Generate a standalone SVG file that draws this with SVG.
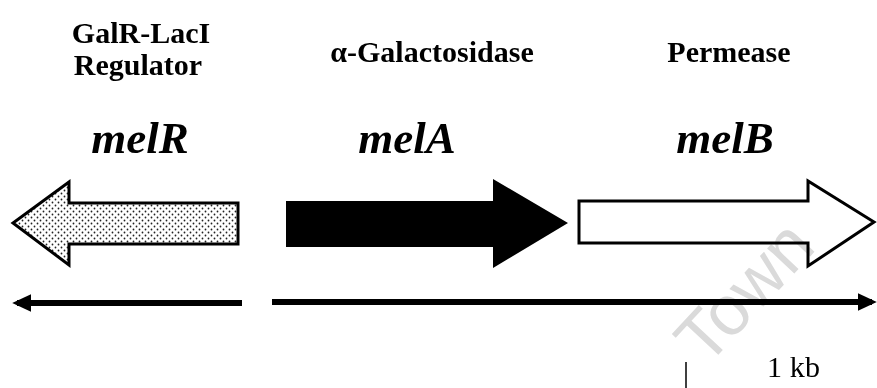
<svg xmlns="http://www.w3.org/2000/svg" width="877" height="388" viewBox="0 0 877 388">
  <defs>
    <pattern id="stipple" width="6" height="6" patternUnits="userSpaceOnUse">
      <rect width="6" height="6" fill="#fff"/>
      <circle cx="1.5" cy="1.5" r="0.9" fill="#222"/>
      <circle cx="4.5" cy="4.5" r="0.9" fill="#222"/>
    </pattern>
    <marker id="head" markerWidth="3.2" markerHeight="3" refX="2.4" refY="1.5" orient="auto" markerUnits="strokeWidth">
      <path d="M0,0 L3.2,1.5 L0,3 Z" fill="#000"/>
    </marker>
  </defs>
  <style>
    .lbl { font-family: "Liberation Serif", "Times New Roman", serif; font-weight: bold; font-size: 30px; fill: #000; }
    .gene { font-family: "Liberation Serif", "Times New Roman", serif; font-weight: bold; font-style: italic; font-size: 45px; fill: #000; }
    .gene-arrow { stroke: #000; stroke-width: 3; stroke-linejoin: miter; }
    .axis { stroke: #000; stroke-width: 6; fill: none; }
    .scale { font-family: "Liberation Serif", "Times New Roman", serif; font-size: 30px; fill: #000; }
    .wm { font-family: "Liberation Sans", Arial, sans-serif; font-size: 70px; fill: #dadada; mix-blend-mode: multiply; }
  </style>
  <rect width="877" height="388" fill="#fff"/>

  <g id="melR">
    <text class="lbl" x="141" y="43" text-anchor="middle">GalR-LacI</text>
    <text class="lbl" x="138" y="75" text-anchor="middle">Regulator</text>
    <text class="gene" x="140" y="153" text-anchor="middle">melR</text>
    <path class="gene-arrow" fill="url(#stipple)" d="M238,203 L238,244 L69,244 L69,265 L13,223 L69,182 L69,203 Z"/>
  </g>

  <g id="melA">
    <text class="lbl" x="432" y="62" text-anchor="middle">α-Galactosidase</text>
    <text class="gene" x="407" y="153" text-anchor="middle">melA</text>
    <path fill="#000" d="M286,201 L493,201 L493,179 L568,223 L493,268 L493,247 L286,247 Z"/>
  </g>

  <g id="melB">
    <text class="lbl" x="729" y="62" text-anchor="middle">Permease</text>
    <text class="gene" x="725" y="153" text-anchor="middle">melB</text>
    <path class="gene-arrow" fill="#fff" d="M579,201 L808,201 L808,181 L874,222 L808,266 L808,243 L579,243 Z"/>
  </g>

  <g id="connectors">
    <!-- transcription directions -->
    <line class="axis" x1="242" y1="303" x2="17" y2="303" marker-end="url(#head)"/>
    <line class="axis" x1="272" y1="302" x2="872" y2="302" marker-end="url(#head)"/>
  </g>

  <g id="scale">
    <line x1="686" y1="362" x2="686" y2="388" stroke="#000" stroke-width="1.5"/>
    <text class="scale" x="767" y="377" textLength="53">1 kb</text>
  </g>

  <!-- faint diagonal watermark, multiplied so it only tints white areas -->
  <text class="wm" transform="translate(706,368) rotate(-47)">Town</text>
</svg>
